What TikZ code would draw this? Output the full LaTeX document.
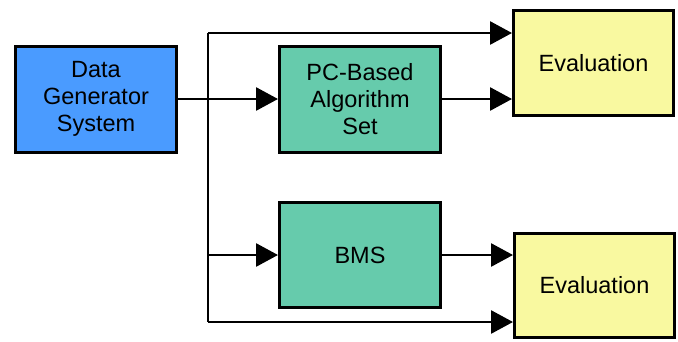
\documentclass[tikz,border=0pt]{standalone}
\usepackage{fontspec}
\setmainfont{Liberation Sans}
\usetikzlibrary{arrows.meta}
\definecolor{dgblue}{HTML}{4A9BFF}
\definecolor{algteal}{HTML}{66CBAC}
\definecolor{evyellow}{HTML}{F9F9A0}
\begin{document}
\begin{tikzpicture}[x=1pt,y=-1pt,
  box/.style={draw=black, line width=3pt, align=center, inner sep=0pt,
    minimum width=161pt, minimum height=106pt,
    font=\fontsize{23.5}{27}\selectfont},
  conn/.style={line width=2.8pt, line join=round},
  arr/.style={conn, -{Triangle[length=22pt,width=23pt]}}]
\useasboundingbox (0,0) rectangle (678,341);
\node[box, fill=dgblue] (dg) at (96,99) {Data\\Generator\\System};
\node[box, fill=algteal] (pc) at (360,99) {PC-Based\\Algorithm\\Set};
\node[box, fill=algteal, minimum height=105pt] (bms) at (360,255) {BMS};
\node[box, fill=evyellow, minimum width=160pt, minimum height=105pt] (ev1) at (593.5,63) {Evaluation};
\node[box, fill=evyellow, minimum width=160pt, minimum height=104pt] (ev2) at (594.5,285.5) {Evaluation};
\coordinate (bt) at (208,33);
\coordinate (bb) at (208,322);
\draw[conn] (bt) -- (bb);
\draw[arr] (dg.east) -- (dg.east -| pc.west);
\draw[arr] (bt) -- (bt -| ev1.west);
\draw[arr] (bb) -- (bb -| ev2.west);
\draw[arr] (bms.west -| bt) -- (bms.west);
\draw[arr] (pc.east) -- (pc.east -| ev1.west);
\draw[arr] (bms.east) -- (bms.east -| ev2.west);
\end{tikzpicture}
\end{document}
